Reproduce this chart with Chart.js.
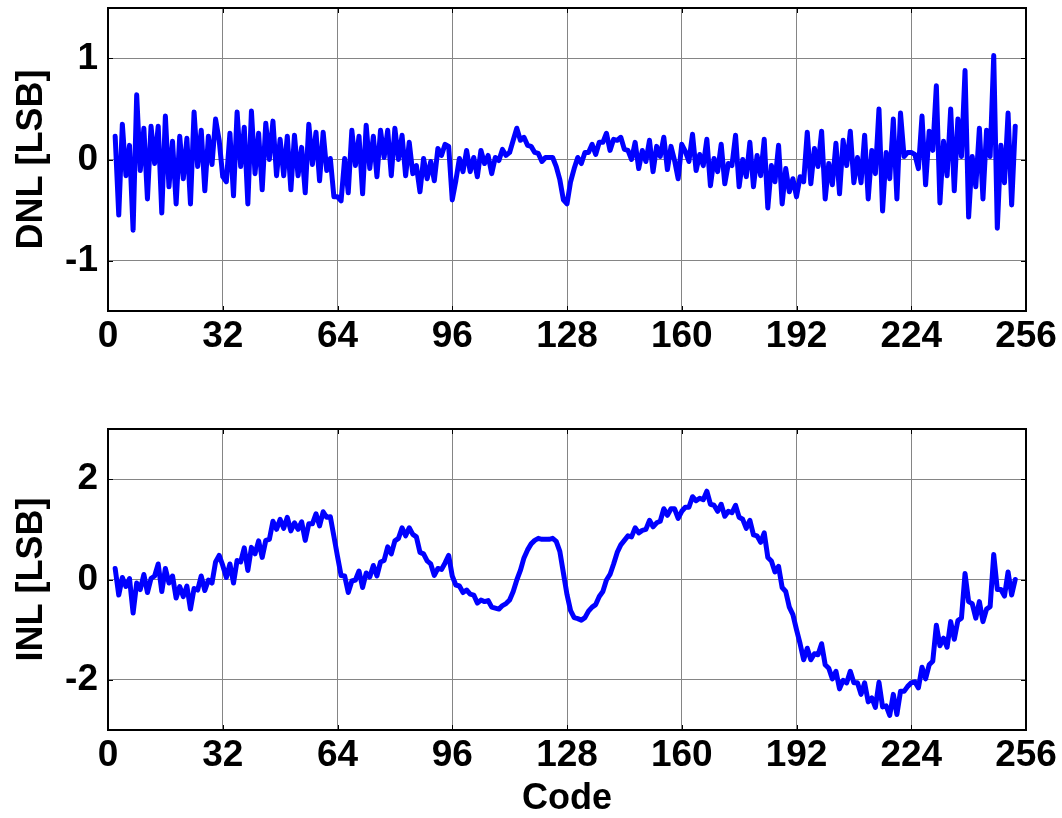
<!DOCTYPE html>
<html>
<head>
<meta charset="utf-8">
<title>DNL / INL</title>
<script src="https://cdn.jsdelivr.net/npm/chart.js@4/dist/chart.umd.min.js"></script>
<style>
  html, body { margin: 0; padding: 0; background: #fff; }
  #wrap { position: relative; width: 1062px; height: 818px; overflow: hidden; }
  #wrap canvas { position: absolute; left: 0; }
  #chart-dnl { top: 0; }
  #chart-inl { top: 370px; }
</style>
</head>
<body>
<div id="wrap">
  <canvas id="chart-dnl" width="1062" height="370"></canvas>
  <canvas id="chart-inl" width="1062" height="448"></canvas>
</div>
<script>
// codes run from FIRST_CODE upward, one value per code
var FIRST_CODE = 2;

var DNL = [
  0.23, -0.55, 0.35, -0.16, 0.14, -0.70, 0.64, -0.11, 0.31, -0.39,
  0.33, -0.04, 0.33, -0.53, 0.43, -0.27, 0.18, -0.44, 0.23, -0.19,
  0.21, -0.44, 0.47, -0.07, 0.29, -0.31, 0.23, -0.05, 0.40, 0.19,
  -0.17, -0.22, 0.26, -0.36, 0.47, -0.07, 0.32, -0.44, 0.48, -0.14,
  0.26, -0.30, 0.36, 0.00, 0.38, -0.16, 0.20, -0.16, 0.23, -0.30,
  0.24, -0.16, 0.12, -0.33, 0.35, -0.05, 0.27, -0.21, 0.27, -0.11,
  0.01, -0.37, -0.37, -0.41, 0.01, -0.33, 0.29, -0.06, 0.23, -0.34,
  0.34, -0.09, 0.23, -0.17, 0.29, 0.02, 0.29, -0.16, 0.31, 0.00,
  0.24, -0.16, 0.17, -0.14, -0.06, -0.32, 0.01, -0.19, -0.02, -0.21,
  0.11, 0.04, 0.15, 0.13, -0.40, -0.21, 0.01, -0.12, 0.09, -0.12,
  0.02, -0.17, 0.09, -0.04, 0.04, -0.14, 0.02, -0.01, 0.10, 0.04,
  0.07, 0.19, 0.31, 0.19, 0.22, 0.14, 0.13, 0.07, 0.06, -0.02,
  0.02, 0.02, 0.02, -0.07, -0.20, -0.40, -0.44, -0.22, -0.09, 0.02,
  -0.04, 0.07, 0.07, 0.15, 0.05, 0.17, 0.17, 0.26, 0.09, 0.20,
  0.19, 0.22, 0.10, 0.09, 0.00, 0.17, -0.09, 0.09, -0.02, 0.19,
  -0.12, 0.13, 0.03, 0.22, -0.10, 0.13, -0.01, -0.19, 0.15, 0.08,
  -0.02, 0.25, -0.11, 0.05, -0.06, 0.20, -0.26, 0.01, -0.12, 0.15,
  -0.24, -0.04, -0.06, 0.24, -0.27, 0.00, -0.17, 0.17, -0.27, 0.04,
  -0.16, 0.20, -0.48, -0.06, -0.22, 0.14, -0.44, -0.09, -0.32, -0.19,
  -0.37, -0.17, -0.22, 0.27, -0.24, 0.11, -0.07, 0.28, -0.39, -0.04,
  -0.25, 0.16, -0.34, 0.19, -0.06, 0.28, -0.23, 0.02, -0.23, 0.24,
  -0.39, 0.09, -0.14, 0.50, -0.51, 0.07, -0.19, 0.40, -0.39, 0.46,
  0.03, 0.07, 0.07, 0.05, -0.09, 0.43, -0.25, 0.28, 0.09, 0.73,
  -0.43, 0.18, -0.16, 0.50, -0.31, 0.40, 0.03, 0.88, -0.57, 0.03,
  -0.27, 0.31, -0.39, 0.29, 0.03, 1.03, -0.68, 0.14, -0.23, 0.46,
  -0.45, 0.33
];

var INL = [
  0.22, -0.31, 0.04, -0.14, 0.02, -0.67, -0.07, -0.20, 0.10, -0.26,
  0.02, 0.07, 0.31, -0.24, 0.22, -0.07, 0.07, -0.37, -0.14, -0.34,
  -0.13, -0.59, -0.18, -0.21, 0.07, -0.22, -0.01, -0.07, 0.35, 0.48,
  0.28, 0.04, 0.31, -0.07, 0.38, 0.35, 0.63, 0.18, 0.64, 0.51,
  0.77, 0.44, 0.78, 0.80, 1.16, 1.00, 1.20, 1.02, 1.24, 0.97,
  1.13, 1.00, 1.15, 0.78, 1.11, 1.11, 1.31, 1.07, 1.35, 1.24,
  1.25, 0.86, 0.46, 0.08, 0.07, -0.26, -0.03, -0.01, 0.17, -0.16,
  0.13, 0.05, 0.28, 0.07, 0.35, 0.38, 0.65, 0.51, 0.77, 0.82,
  1.03, 0.87, 1.03, 0.90, 0.85, 0.54, 0.51, 0.37, 0.31, 0.08,
  0.22, 0.20, 0.33, 0.48, 0.07, -0.11, -0.13, -0.26, -0.21, -0.29,
  -0.31, -0.47, -0.41, -0.44, -0.42, -0.55, -0.57, -0.59, -0.52, -0.48,
  -0.41, -0.24, -0.01, 0.18, 0.43, 0.59, 0.71, 0.78, 0.82, 0.80,
  0.80, 0.80, 0.82, 0.76, 0.56, 0.13, -0.30, -0.62, -0.76, -0.78,
  -0.81, -0.76, -0.63, -0.55, -0.50, -0.34, -0.24, -0.01, 0.10, 0.31,
  0.54, 0.69, 0.78, 0.87, 0.85, 1.03, 0.93, 0.98, 1.00, 1.18,
  1.05, 1.13, 1.16, 1.41, 1.28, 1.41, 1.41, 1.22, 1.36, 1.44,
  1.44, 1.65, 1.57, 1.62, 1.59, 1.76, 1.50, 1.48, 1.36, 1.50,
  1.26, 1.36, 1.33, 1.48, 1.24, 1.20, 1.02, 1.18, 0.89, 0.87,
  0.74, 0.93, 0.44, 0.37, 0.15, 0.26, -0.16, -0.24, -0.55, -0.70,
  -1.00, -1.28, -1.60, -1.37, -1.60, -1.48, -1.50, -1.28, -1.70, -1.77,
  -1.98, -1.83, -2.18, -2.01, -2.06, -1.83, -2.06, -2.06, -2.29, -2.06,
  -2.44, -2.36, -2.55, -2.05, -2.54, -2.52, -2.71, -2.29, -2.69, -2.23,
  -2.23, -2.13, -2.06, -2.04, -2.16, -1.75, -1.98, -1.70, -1.63, -0.91,
  -1.32, -1.17, -1.35, -0.84, -1.19, -0.82, -0.77, 0.12, -0.44, -0.48,
  -0.77, -0.44, -0.84, -0.59, -0.54, 0.50, -0.20, -0.20, -0.33, 0.15,
  -0.31, 0.00
];

var X_TICKS = [0, 32, 64, 96, 128, 160, 192, 224, 256];
var DNL_TICKS = [-1, 0, 1];
var INL_TICKS = [-2, 0, 2];

(function () {
  var FONT = '"Liberation Sans", Arial, sans-serif';
  var LINE_BLUE = '#0000ff';
  var GRID = '#858585';
  var TICK_LEN = 5;
  var PLOT_LEFT = 108;
  var PLOT_RIGHT_PAD = 36;

  function points(values) {
    return values.map(function (v, i) { return { x: FIRST_CODE + i, y: v }; });
  }

  function setTicks(list) {
    return function (axis) {
      axis.ticks = list.map(function (v) { return { value: v }; });
    };
  }

  // MATLAB-style box with inward tick marks
  var boxPlugin = {
    id: 'matlabBox',
    beforeDatasetsDraw: function (chart) {
      var a = chart.chartArea, ctx = chart.ctx;
      var xs = chart.scales.x, ys = chart.scales.y;
      ctx.save();
      ctx.strokeStyle = '#000';
      ctx.lineWidth = 1;
      ctx.beginPath();
      xs.ticks.forEach(function (t) {
        var px = Math.round(xs.getPixelForValue(t.value)) + 0.5;
        ctx.moveTo(px, a.top); ctx.lineTo(px, a.top + TICK_LEN);
        ctx.moveTo(px, a.bottom); ctx.lineTo(px, a.bottom - TICK_LEN);
      });
      ys.ticks.forEach(function (t) {
        var py = Math.round(ys.getPixelForValue(t.value)) + 0.5;
        ctx.moveTo(a.left, py); ctx.lineTo(a.left + TICK_LEN, py);
        ctx.moveTo(a.right, py); ctx.lineTo(a.right - TICK_LEN, py);
      });
      ctx.stroke();
      ctx.restore();
    },
    afterDraw: function (chart) {
      var a = chart.chartArea, ctx = chart.ctx;
      ctx.save();
      ctx.strokeStyle = '#000';
      ctx.lineWidth = 2;
      ctx.strokeRect(a.left, a.top, a.right - a.left, a.bottom - a.top);
      ctx.restore();
    }
  };

  function makeChart(canvasId, values, yMin, yMax, yTicks, yTitle, opts) {
    var el = document.getElementById(canvasId);
    return new Chart(el, {
      type: 'line',
      data: {
        datasets: [{
          data: points(values),
          borderColor: LINE_BLUE,
          borderWidth: 5,
          borderJoinStyle: 'round',
          borderCapStyle: 'round',
          pointRadius: 0,
          tension: 0,
          fill: false
        }]
      },
      options: {
        responsive: false,
        devicePixelRatio: 1,
        animation: false,
        layout: { padding: { top: opts.top, right: PLOT_RIGHT_PAD, left: 0, bottom: 0 } },
        plugins: { legend: { display: false }, tooltip: { enabled: false } },
        scales: {
          x: {
            type: 'linear',
            min: 0,
            max: 256,
            afterBuildTicks: setTicks(X_TICKS),
            afterFit: function (s) {
              s.height = opts.xHeight;
              s.paddingLeft = 0;
              s.paddingRight = 0;
            },
            border: { display: false },
            grid: { color: GRID, lineWidth: 1, drawTicks: false },
            ticks: {
              padding: 4,
              color: '#000',
              font: { family: FONT, size: 37, weight: 'bold' },
              callback: function (v) { return String(v); }
            },
            title: opts.xTitle ? {
              display: true,
              text: opts.xTitle,
              color: '#000',
              padding: { top: 0, bottom: 1 },
              font: { family: FONT, size: 36, weight: 'bold', lineHeight: 1 }
            } : { display: false }
          },
          y: {
            type: 'linear',
            min: yMin,
            max: yMax,
            afterBuildTicks: setTicks(yTicks),
            afterFit: function (s) {
              // fixed axis width; no extra room for half-height edge labels
              s.width = PLOT_LEFT;
              s.paddingTop = 0;
              s.paddingBottom = 0;
            },
            border: { display: false },
            grid: { color: GRID, lineWidth: 1, drawTicks: false },
            ticks: {
              padding: 10,
              color: '#000',
              font: { family: FONT, size: 37, weight: 'bold' },
              callback: function (v) { return String(v); }
            },
            title: {
              display: true,
              text: yTitle,
              color: '#000',
              padding: { top: 14, bottom: 0 },
              font: { family: FONT, size: 36, weight: 'bold', lineHeight: 1 }
            }
          }
        }
      },
      plugins: [boxPlugin]
    });
  }

  makeChart('chart-dnl', DNL, -1.5, 1.5, DNL_TICKS, 'DNL [LSB]', { top: 8, xHeight: 59 });
  makeChart('chart-inl', INL, -3, 3, INL_TICKS, 'INL [LSB]', { top: 59, xHeight: 88, xTitle: 'Code' });
})();
</script>
</body>
</html>
